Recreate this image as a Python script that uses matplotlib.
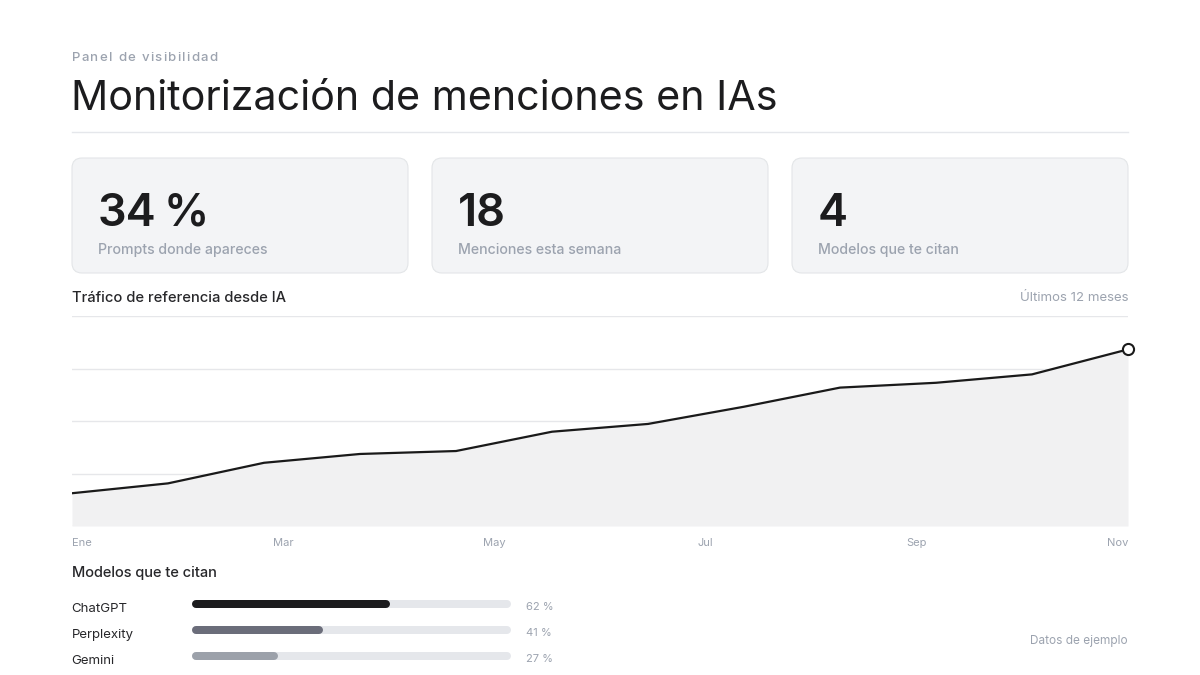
import matplotlib
matplotlib.use("Agg")
import matplotlib.pyplot as plt
from matplotlib.patches import FancyBboxPatch
import numpy as np

plt.rcParams['font.family'] = ['Inter', 'DejaVu Sans']

# datos
meses = ['Ene', 'Mar', 'May', 'Jul', 'Sep', 'Nov']
trafico = [15.6, 20.3, 30.1, 34.3, 35.7, 44.9, 48.6, 56.8, 65.9, 68.2, 72.2, 84.1]
kpi_valores = ['34 %', '18', '4']
kpi_textos = ['Prompts donde apareces', 'Menciones esta semana', 'Modelos que te citan']
modelos = ['ChatGPT', 'Perplexity', 'Gemini']
porcentajes = [62, 41, 27]
colores_modelos = ['#1c1c1e', '#6b6d7a', '#9ca1aa']

W, H = 1200, 675
fig = plt.figure(figsize=(W / 100, H / 100), dpi=100)
fig.patch.set_facecolor('white')

# capa de fondo en coordenadas de pixel
bg = fig.add_axes([0, 0, 1, 1])
bg.set_xlim(0, W)
bg.set_ylim(H, 0)
bg.axis('off')

GRIS = '#9ca3af'
OSCURO = '#1c1c1e'


def texto_espaciado(x, y, s, espacio, ancho_espacio=None, **kw):
    # dibuja letra a letra para imitar el letter-spacing del css
    renderer = fig.canvas.get_renderer()
    if ancho_espacio is None:
        ancho_espacio = kw.get('fontsize', 10) * 0.35
    for ch in s:
        if ch == ' ':
            x += ancho_espacio + espacio
            continue
        t = bg.text(x, y, ch, **kw)
        bb = t.get_window_extent(renderer)
        x += bb.width + espacio


def texto_palabras(x, y, s, hueco, **kw):
    # cada palabra entera, con un hueco fijo entre ellas (espacio fino)
    renderer = fig.canvas.get_renderer()
    for pal in s.split(' '):
        t = bg.text(x, y, pal, **kw)
        x += t.get_window_extent(renderer).width + hueco


texto_espaciado(72, 58, 'Panel de visibilidad', 1.3, fontsize=9.5, color=GRIS,
                fontweight='medium', va='center', ha='left')
bg.text(71, 110, 'Monitorización de menciones en IAs', fontsize=29.7, color=OSCURO,
        va='baseline', ha='left')
bg.plot([72, 1128], [132, 132], color='#e5e7eb', lw=1)

# tarjetas
for i, (val, txt) in enumerate(zip(kpi_valores, kpi_textos)):
    x0 = 72 + i * 360
    card = FancyBboxPatch((x0, 158), 336, 115, boxstyle='round,pad=0,rounding_size=10',
                          facecolor='#f3f4f6', edgecolor='#e3e5e8', lw=0.8)
    bg.add_patch(card)
    texto_palabras(x0 + 26, 226, val, 7, fontsize=32.5, fontweight='semibold',
                   color=OSCURO, va='baseline', ha='left')
    bg.text(x0 + 26, 250, txt, fontsize=10.2, fontweight='medium', color=GRIS,
            va='center', ha='left')

bg.text(72, 298, 'Tráfico de referencia desde IA', fontsize=10.6, fontweight='medium',
        color='#27272a', va='center', ha='left')
bg.text(1128, 298, 'Últimos 12 meses', fontsize=9.5, color=GRIS, va='center', ha='right')

# grafico de linea
ax = fig.add_axes([72 / W, 1 - 526 / H, (1128 - 72) / W, (526 - 316) / H])
x = np.arange(len(trafico))
ax.fill_between(x, trafico, 0, color='#f1f1f2', lw=0)
ax.plot(x, trafico, color='#1a1a1a', lw=1.6, solid_joinstyle='round')
ax.plot(x[-1], trafico[-1], 'o', ms=8, mfc='white', mec='#1a1a1a', mew=1.5, clip_on=False, zorder=5)
ax.set_xlim(0, len(trafico) - 1)
ax.set_ylim(0, 100)
ax.set_yticks([0, 25, 50, 75, 100])
ax.grid(axis='y', color='#e6e7ea', lw=1)
ax.set_axisbelow(True)
for s in ax.spines.values():
    s.set_visible(False)
ax.tick_params(left=False, labelleft=False, bottom=False, labelbottom=False)

pos = np.linspace(0, len(trafico) - 1, len(meses))
for i, (p, m) in enumerate(zip(pos, meses)):
    ha = 'left' if i == 0 else ('right' if i == len(meses) - 1 else 'center')
    ax.text(p, -0.08, m, transform=ax.get_xaxis_transform(), fontsize=8,
            color=GRIS, ha=ha, va='center')

# barras de modelos
bg.text(72, 573, 'Modelos que te citan', fontsize=10.5, fontweight='medium',
        color='#27272a', va='center', ha='left')
bx0, bx1 = 192, 511
bax = fig.add_axes([bx0 / W, 1 - 669 / H, (bx1 - bx0) / W, (669 - 591) / H])
bax.set_xlim(0, 100)
bax.set_ylim(len(modelos) - 0.5, -0.5)
bax.axis('off')
grosor = 8  # px
r = (grosor / 2) / ((bx1 - bx0) / 100)  # radio del extremo en unidades de datos
lw = grosor * 0.72
for i, (m, v, c) in enumerate(zip(modelos, porcentajes, colores_modelos)):
    bax.plot([r, 100 - r], [i, i], color='#e5e7eb', lw=lw, solid_capstyle='round', clip_on=False)
    bax.plot([r, v - r], [i, i], color=c, lw=lw, solid_capstyle='round', clip_on=False)
    bax.text(-37.8, i + 0.3, m, fontsize=9.5, color='#27272a', ha='left', va='baseline')
    bax.text(104.7, i + 0.25, f'{v} %', fontsize=8, color=GRIS, ha='left', va='baseline')

bg.text(1128, 641, 'Datos de ejemplo', fontsize=8.5, color=GRIS, va='center', ha='right')

fig.savefig('out.png', dpi=100, facecolor='white')
